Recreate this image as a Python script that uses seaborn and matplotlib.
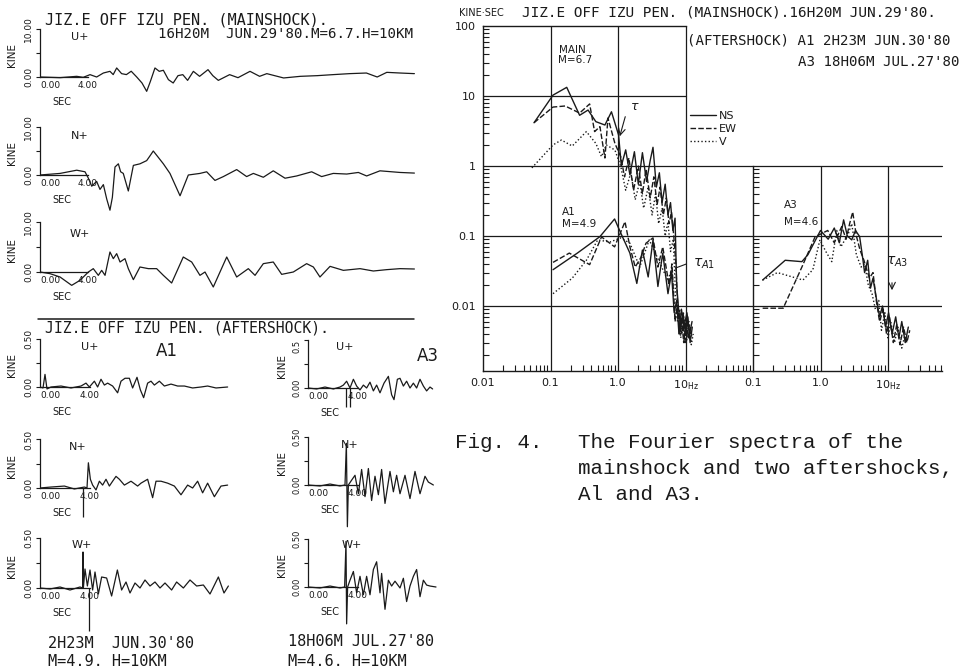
import matplotlib
matplotlib.use('Agg')
import matplotlib.pyplot as plt
import seaborn as sns
import pandas as pd
from matplotlib.lines import Line2D
from matplotlib.ticker import NullFormatter

# waveforms, time in sec and velocity in kine
main_u_t = [0, 1.67, 3.06, 3.6, 4.17, 4.72, 5.28, 5.83, 6.1, 6.39, 6.8, 7.2, 7.6, 8.06, 8.5,
            8.89, 9.2, 9.58, 9.94, 10.28, 10.7, 11.1, 11.5, 11.9, 12.3, 12.78, 13.3, 14.0, 14.4,
            14.86, 15.8, 16.5, 17.5, 18.3, 18.9, 20.3, 21.7, 23.1, 24.4, 25.8, 27.2, 28.1, 28.9,
            30.0, 31.2]
main_u_v = [0, -0.14, 0.14, -0.07, 0.49, 0, 0.83, 1.18, 0.5, 1.88, 0.7, 0.5, 1.2, 0, -1.25,
            -2.99, -0.9, 1.88, 1.18, 1.4, -0.55, -1.25, 0.28, 0.49, -0.7, 1.18, 0.14, 1.53, 0.28,
            -0.7, 0.49, -0.14, 1.18, 0.14, 0.7, -0.2, 0.14, 0.28, 0.49, 0.7, 0.83, 0, 0.97,
            0.83, 0.7]
main_n_t = [0, 1.67, 3.06, 3.75, 4.03, 4.31, 4.72, 5.0, 5.28, 5.56, 5.83, 6.03, 6.25, 6.53,
            6.72, 6.94, 7.36, 7.78, 8.33, 8.89, 9.17, 9.44, 9.86, 10.28, 10.83, 11.25, 11.67,
            12.36, 13.33, 13.89, 14.58, 15.28, 16.39, 17.22, 17.78, 18.61, 19.44, 20.42, 21.39,
            22.64, 23.47, 24.44, 25.56, 26.53, 27.22, 28.33, 30.0, 31.2]
main_n_v = [0, 0.33, 1.0, 0.67, -0.67, -2.33, -1.33, -3.0, -2.0, -5.0, -7.33, -4.67, 1.67, 2.33,
            0.67, 0.33, -3.33, 2.0, 2.33, 3.0, 4.0, 5.0, 3.67, 2.33, 0.33, -2.0, -4.33,
            0, 0.33, 0.67, -1.13, -0.33, 1.13, -0.33, 0.33, -0.47, 0.87, -0.67, -0.2,
            0.67, -0.33, 0.33, 0.2, 0.53, -0.2, 0.87, 0.53, 0.4]
main_w_t = [0, 0.83, 1.67, 2.64, 3.33, 4.03, 4.44, 4.86, 5.14, 5.42, 5.83, 6.11, 6.39, 6.67,
            7.08, 7.36, 7.78, 8.33, 9.03, 9.72, 10.28, 10.97, 11.94, 12.64, 13.33, 13.75, 14.44,
            15.56, 16.39, 17.36, 17.92, 18.61, 19.44, 20.14, 21.11, 22.22, 22.78, 23.33, 24.17,
            25.28, 26.67, 27.78, 28.89, 30.0, 31.2]
main_w_v = [0, -0.33, -1.0, -2.67, -1.67, 0, 0.67, -0.67, 0.33, -0.67, 4.0, 2.67, 3.67, 2.0,
            2.67, 0.67, -1.53, 1.0, 0.67, 0.67, -0.67, -2.2, 3.0, 2.0, -0.67, 0, -3.0,
            3.0, -1.0, 0.67, -0.67, 1.67, 2.0, -0.47, 0, 1.67, 1.0, -1.0, 1.13,
            0.33, 0.67, 0.2, 0.47, 0.67, 0.6]

a1_u_t = [0, 0.24, 0.4, 0.56, 0.88, 1.68, 2.48, 3.28, 3.68, 3.95, 4.35, 4.61, 4.88, 5.15, 5.41,
          5.81, 6.21, 6.48, 6.8, 7.15, 7.41, 7.76, 8.03, 8.29, 8.61, 8.88, 9.15, 9.55, 9.95,
          10.48, 11.01, 11.55, 12.21, 12.88, 13.41, 14.08, 15.01]
a1_u_v = [0, -0.01, 0.13, -0.02, 0, 0.01, -0.01, 0.01, 0.04, 0, 0.06, 0, 0.08, 0.02, 0.04,
          0.01, -0.06, 0.06, 0.09, 0.09, -0.01, 0.1, -0.03, -0.11, 0.04, 0.06, 0.02, 0.06, 0.01,
          0.03, 0.01, 0.01, -0.01, 0, 0.01, -0.01, 0]
a1_n_t = [0, 0.88, 1.95, 2.75, 3.55, 3.76, 3.87, 4.03, 4.21, 4.48, 4.75, 5.01, 5.28, 5.55, 5.81,
          6.08, 6.35, 6.75, 7.28, 7.81, 8.08, 8.61, 9.01, 9.28, 9.68, 10.21, 10.75, 11.28, 11.81,
          12.21, 12.61, 13.01, 13.41, 13.95, 14.48, 15.01]
a1_n_v = [0, 0.01, 0.02, -0.01, 0.01, 0, 0.26, 0.09, 0.03, -0.02, 0.07, 0.03, 0.09, 0.02, 0.07,
          0.12, 0.09, 0.03, 0.07, 0.02, 0.05, 0.09, -0.1, 0.07, 0.07, 0.05, 0.02, -0.07, 0.03,
          0, 0.07, -0.05, 0.05, -0.09, 0.02, 0.03]
a1_w_t = [0, 0.8, 1.6, 2.4, 3.2, 3.41, 3.44, 3.47, 3.6, 3.79, 4.0, 4.21, 4.4, 4.67, 4.93, 5.33,
          5.73, 6.19, 6.53, 6.88, 7.2, 7.6, 8.0, 8.4, 8.8, 9.2, 9.6, 10.0, 10.53, 10.93, 11.47,
          12.0, 12.53, 13.07, 13.6, 14.27, 14.72, 15.07]
a1_w_v = [0, -0.01, 0.01, -0.02, 0.01, 0, 0.36, 0, 0.19, 0.02, 0.18, -0.02, 0.16, -0.06, 0.11,
          0.1, -0.08, 0.18, -0.02, 0.06, -0.05, 0.05, 0, 0.08, 0.02, 0.06, 0, 0.05, -0.02, 0.06,
          0, 0.08, 0.02, 0.03, -0.06, 0.11, -0.05, 0.02]

a3_u_t = [0, 0.69, 1.36, 2.03, 2.56, 2.83, 3.09, 3.36, 3.63, 3.89, 4.16, 4.43, 4.69, 4.96, 5.23,
          5.49, 5.76, 6.08, 6.43, 6.69, 6.88, 7.15, 7.36, 7.63, 7.89, 8.16, 8.43, 8.69, 8.96,
          9.23, 9.49, 9.76, 9.97]
a3_u_v = [0, -0.01, 0.01, -0.01, 0.01, 0.03, 0.07, 0, 0.09, 0.02, -0.02, 0.03, 0, 0.06, -0.03,
          0.03, -0.05, 0.05, 0.12, -0.07, -0.12, 0.09, 0.1, 0.02, 0.07, 0, 0.05, 0, 0.09,
          0.02, -0.03, 0.01, -0.01]
a3_n_t = [0, 0.96, 1.76, 2.56, 2.96, 3.07, 3.15, 3.23, 3.49, 3.76, 4.03, 4.29, 4.56, 4.83, 5.09,
          5.36, 5.63, 5.89, 6.16, 6.56, 6.83, 7.09, 7.36, 7.76, 8.16, 8.56, 8.96, 9.36, 9.63, 10.03]
a3_n_v = [0, -0.01, 0.01, -0.01, 0, 0.43, -0.43, 0, 0.05, 0.1, -0.09, 0.16, -0.12, 0.17, -0.16,
          0.09, -0.1, 0.16, -0.19, 0.14, -0.07, 0.1, -0.09, 0.1, -0.14, 0.14, -0.09, 0.09, 0.03, 0]
a3_w_t = [0, 0.96, 1.76, 2.56, 2.93, 3.04, 3.09, 3.17, 3.36, 3.63, 3.89, 4.16, 4.43, 4.69, 4.96,
          5.23, 5.49, 5.76, 5.89, 6.16, 6.43, 6.69, 6.96, 7.36, 7.63, 7.89, 8.16, 8.43, 8.69,
          8.96, 9.23, 9.49, 9.76, 10.24]
a3_w_v = [0, -0.01, 0.01, -0.01, 0, 0.47, -0.38, 0, 0.07, 0.16, -0.06, 0.11, -0.08, 0.11, -0.08,
          0.18, 0.26, -0.06, 0.14, -0.23, 0.07, 0.01, 0.06, -0.01, 0.09, -0.15, 0.01, 0.11, 0.18,
          -0.1, 0.07, 0.02, 0.01, 0]

# onset marks below the base line (sec)
a1_n_marks = [3.44]
a1_w_marks = [3.92]
a3_u_marks = [3.04, 3.36]

# Fourier spectra, Hz and kine*sec
main_ns_f = [0.057, 0.109, 0.174, 0.27, 0.36, 0.47, 0.64, 0.80, 1.02, 1.12, 1.3, 1.5, 1.75, 2.0,
             2.3, 2.65, 3.0, 3.3, 3.7, 4.1, 4.5, 5.0, 5.5, 6.0, 6.5, 7.0, 7.4, 7.9, 8.5, 9.2,
             10.0, 10.8, 11.7, 12.6]
main_ns_a = [4.15, 10.3, 13.3, 5.3, 6.3, 4.3, 3.85, 5.95, 2.77, 1.0, 1.7, 0.75, 1.6, 0.55,
             1.55, 0.6, 1.2, 1.85, 0.5, 0.8, 0.3, 0.55, 0.2, 0.3, 0.12, 0.18, 0.02, 0.009, 0.005,
             0.008, 0.004, 0.007, 0.003, 0.005]
main_ew_f = [0.057, 0.109, 0.165, 0.27, 0.38, 0.45, 0.54, 0.64, 0.71, 0.9, 1.1, 1.25, 1.45, 1.7,
             2.0, 2.3, 2.6, 3.0, 3.4, 3.8, 4.2, 4.7, 5.2, 5.7, 6.2, 6.7, 7.2, 7.6, 8.1, 8.7, 9.4,
             10.2, 11.0, 12.0]
main_ew_a = [4.15, 6.95, 7.2, 5.7, 7.7, 3.1, 3.65, 1.3, 4.85, 2.1, 1.35, 0.7, 1.3, 0.45,
             1.0, 0.4, 0.9, 0.35, 0.7, 0.28, 0.5, 0.2, 0.35, 0.15, 0.22, 0.1, 0.04, 0.012, 0.004,
             0.007, 0.003, 0.006, 0.0035, 0.005]
main_v_f = [0.053, 0.109, 0.145, 0.21, 0.34, 0.47, 0.57, 0.67, 0.9, 1.1, 1.3, 1.55, 1.8, 2.1,
            2.4, 2.8, 3.2, 3.6, 4.0, 4.5, 5.0, 5.5, 6.0, 6.6, 7.1, 7.6, 8.2, 8.8, 9.5, 10.3, 11.2,
            12.2, 13.0]
main_v_a = [0.94, 2.0, 2.35, 1.93, 3.1, 2.1, 1.36, 2.0, 1.69, 0.98, 0.45, 0.8, 0.33, 0.6,
            0.25, 0.5, 0.2, 0.4, 0.15, 0.25, 0.1, 0.16, 0.06, 0.09, 0.015, 0.006, 0.009, 0.004,
            0.0065, 0.003, 0.0055, 0.0028, 0.004]

a1_ns_f = [0.109, 0.25, 0.54, 0.89, 1.1, 1.5, 1.9, 2.3, 2.8, 3.3, 3.9, 4.6, 5.5, 6.2, 6.8, 7.4,
           8.0, 8.7, 9.5, 10.5, 11.5, 12.5]
a1_ns_a = [0.033, 0.057, 0.098, 0.175, 0.11, 0.057, 0.021, 0.063, 0.026, 0.088, 0.019, 0.057,
           0.015, 0.03, 0.008, 0.012, 0.004, 0.009, 0.005, 0.008, 0.004, 0.006]
a1_ew_f = [0.109, 0.19, 0.38, 0.57, 0.89, 1.27, 1.5, 1.8, 2.2, 2.6, 3.3, 3.9, 4.6, 5.7, 6.3, 7.0,
           7.6, 8.3, 9.0, 9.8, 10.8, 11.8]
a1_ew_a = [0.042, 0.057, 0.039, 0.097, 0.07, 0.16, 0.07, 0.036, 0.05, 0.079, 0.094, 0.036, 0.07,
           0.02, 0.04, 0.006, 0.01, 0.004, 0.007, 0.003, 0.006, 0.004]
a1_v_f = [0.109, 0.21, 0.34, 0.5, 0.76, 1.1, 1.5, 2.1, 2.9, 4.0, 5.5, 6.3, 7.0, 7.7, 8.5, 9.3,
          10.2, 11.2, 12.5]
a1_v_a = [0.015, 0.025, 0.045, 0.088, 0.082, 0.094, 0.079, 0.036, 0.088, 0.045, 0.023, 0.035,
          0.007, 0.01, 0.0035, 0.008, 0.003, 0.006, 0.0035]

a3_ns_f = [0.139, 0.3, 0.53, 0.65, 1.0, 1.3, 1.6, 1.9, 2.2, 2.5, 2.9, 3.3, 3.8, 4.2, 4.5, 5.0,
           5.5, 6.0, 6.8, 7.5, 8.3, 9.2, 10.2, 11.5, 13, 14.5, 16, 18, 20]
a3_ns_a = [0.0235, 0.045, 0.043, 0.054, 0.12, 0.09, 0.13, 0.08, 0.17, 0.1, 0.088, 0.12, 0.098,
           0.05, 0.03, 0.045, 0.018, 0.025, 0.012, 0.007, 0.01, 0.005, 0.008, 0.004, 0.007,
           0.0035, 0.006, 0.003, 0.005]
a3_ew_f = [0.139, 0.28, 0.53, 0.83, 1.28, 1.6, 2.06, 2.4, 2.7, 3.0, 3.4, 3.85, 4.4, 5.3, 6.0,
           6.7, 7.5, 8.5, 9.5, 10.5, 12, 13.5, 15, 17, 19, 21]
a3_ew_a = [0.0093, 0.0093, 0.036, 0.097, 0.12, 0.08, 0.136, 0.09, 0.15, 0.22, 0.1, 0.063, 0.045,
           0.025, 0.03, 0.012, 0.006, 0.009, 0.004, 0.007, 0.003, 0.0055, 0.0028, 0.005, 0.003,
           0.0045]
a3_v_f = [0.139, 0.23, 0.55, 0.77, 0.98, 1.2, 1.47, 1.74, 2.0, 2.3, 2.6, 2.9, 3.4, 4.0, 4.5,
          5.1, 5.8, 6.5, 7.3, 8.0, 9.0, 10.0, 11.0, 12.5, 14, 16, 18]
a3_v_a = [0.0235, 0.03, 0.0235, 0.033, 0.088, 0.06, 0.043, 0.12, 0.07, 0.088, 0.11, 0.15, 0.054,
          0.036, 0.04, 0.02, 0.015, 0.009, 0.012, 0.0045, 0.008, 0.0035, 0.006, 0.003, 0.005,
          0.0025, 0.004]

comps = ['NS', 'EW', 'V']

sns.set_theme(style='ticks', rc={'axes.edgecolor': 'k', 'xtick.color': 'k', 'ytick.color': 'k',
                                 'text.color': 'k', 'axes.linewidth': 0.9})
plt.rcParams['font.family'] = ['DejaVu Sans']

W, H = 977, 671
fig = plt.figure(figsize=(W / 100, H / 100), dpi=100)
MONO = 'DejaVu Sans Mono'


def px_axes(left, top, width, height):
    return fig.add_axes([left / W, 1 - (top + height) / H, width / W, height / H])


def ftext(x, y, s, **kw):
    kw.setdefault('va', 'center')
    fig.text(x / W, 1 - y / H, s, **kw)


def wave_panel(t, v, x0, zero, sx, sy, tmax, vmin, vmax, top_val, top_lab,
               marks=None, mark_low=0, kine_dx=28, lab_size=6.5, top_va='center'):
    ax = px_axes(x0, zero - vmax * sy, tmax * sx, (vmax - vmin) * sy)
    ax.patch.set_visible(False)
    sns.lineplot(x=t, y=v, ax=ax, color='k', linewidth=0.9, estimator=None, sort=False)
    if marks:
        ax.vlines(marks, mark_low, 0, color='k', lw=0.9)
    ax.set_xlim(0, tmax)
    ax.set_ylim(vmin, vmax)
    ax.spines[['top', 'right']].set_visible(False)
    ax.spines['left'].set_position(('data', 0))
    ax.spines['left'].set_bounds(0, top_val)
    ax.spines['bottom'].set_position(('data', 0))
    ax.spines['bottom'].set_bounds(0, 4)
    ax.set_yticks([0, top_val / 2, top_val], ['0.00', '', top_lab])
    ax.tick_params(axis='y', length=3, width=0.8, pad=2, labelsize=lab_size, labelrotation=90)
    ylabs = ax.get_yticklabels()
    for lab in ylabs:
        lab.set_va('center')
    ylabs[2].set_va(top_va)
    ax.set_xticks([0, 4], ['0.00', '4.00'])
    ax.tick_params(axis='x', length=0, pad=3, labelsize=6.5)
    ax.get_xticklabels()[0].set_ha('left')
    ax.set_xlabel('')
    ax.set_ylabel('')
    ftext(x0 - kine_dx, zero - 22, 'KINE', rotation=90, ha='center', fontsize=7.5)
    ftext(x0 + 22, zero + 25, 'SEC', ha='center', fontsize=7)
    return ax


# mainshock records
wave_panel(main_u_t, main_u_v, 40, 77, 12, 4.8, 31.3, -3.5, 10.5, 10, '10.00')
wave_panel(main_n_t, main_n_v, 40, 175, 12, 4.8, 31.3, -8, 10.5, 10, '10.00')
wave_panel(main_w_t, main_w_v, 40, 272, 12, 5.0, 31.3, -3.5, 10.5, 10, '10.00')

# aftershock records
wave_panel(a1_u_t, a1_u_v, 40, 387, 12.5, 97, 15.5, -0.25, 0.55, 0.5, '0.50')
wave_panel(a1_n_t, a1_n_v, 40, 488, 12.5, 97, 15.5, -0.35, 0.55, 0.5, '0.50',
           marks=a1_n_marks, mark_low=-0.3)
wave_panel(a1_w_t, a1_w_v, 40, 588, 12.5, 100, 15.5, -0.45, 0.55, 0.5, '0.50',
           marks=a1_w_marks, mark_low=-0.43)
wave_panel(a3_u_t, a3_u_v, 308, 388, 12.5, 97, 10.6, -0.25, 0.55, 0.5, '0.5',
           marks=a3_u_marks, mark_low=-0.2, kine_dx=26, lab_size=6, top_va='top')
wave_panel(a3_n_t, a3_n_v, 308, 485, 12.5, 97, 10.6, -0.45, 0.55, 0.5, '0.50',
           kine_dx=26, lab_size=6)
wave_panel(a3_w_t, a3_w_v, 308, 587, 12.5, 97, 10.6, -0.45, 0.55, 0.5, '0.50',
           kine_dx=26, lab_size=6)

ftext(45, 20, "JIZ.E OFF IZU PEN. (MAINSHOCK).", family=MONO, fontsize=11)
ftext(158, 34, "16H20M  JUN.29'80.M=6.7.H=10KM", family=MONO, fontsize=10.2)
ftext(80, 37, 'U+', ha='center', fontsize=8)
ftext(80, 136, 'N+', ha='center', fontsize=8)
ftext(80, 234, 'W+', ha='center', fontsize=8)

fig.add_artist(Line2D([38 / W, 414 / W], [1 - 319 / H] * 2, color='k', lw=1.1))
ftext(45, 328, "JIZ.E OFF IZU PEN. (AFTERSHOCK).", family=MONO, fontsize=10.6)
ftext(167, 351, 'A1', ha='center', fontsize=12)
ftext(428, 356, 'A3', ha='center', fontsize=12)
ftext(90, 347, 'U+', ha='center', fontsize=8)
ftext(78, 447, 'N+', ha='center', fontsize=8)
ftext(82, 545, 'W+', ha='center', fontsize=8)
ftext(345, 347, 'U+', ha='center', fontsize=8)
ftext(350, 445, 'N+', ha='center', fontsize=8)
ftext(352, 545, 'W+', ha='center', fontsize=8)
ftext(48, 643, "2H23M  JUN.30'80", family=MONO, fontsize=11)
ftext(48, 662, "M=4.9. H=10KM", family=MONO, fontsize=11)
ftext(288, 642, "18H06M JUL.27'80", family=MONO, fontsize=11)
ftext(288, 661, "M=4.6. H=10KM", family=MONO, fontsize=11)


def spec_df(parts):
    return pd.concat([pd.DataFrame({'freq': f, 'amp': a, 'comp': c}) for c, f, a in parts],
                     ignore_index=True)


main_df = spec_df([('NS', main_ns_f, main_ns_a), ('EW', main_ew_f, main_ew_a), ('V', main_v_f, main_v_a)])
a1_df = spec_df([('NS', a1_ns_f, a1_ns_a), ('EW', a1_ew_f, a1_ew_a), ('V', a1_v_f, a1_v_a)])
a3_df = spec_df([('NS', a3_ns_f, a3_ns_a), ('EW', a3_ew_f, a3_ew_a), ('V', a3_v_f, a3_v_a)])
dash_map = {'NS': '', 'EW': (4, 1.6), 'V': (1, 1.6)}

ylow = 10 ** (-205 / 70)
ax1 = px_axes(483, 26, 270, 345)
ax2 = px_axes(753, 166, 189, 205)
for ax in (ax1, ax2):
    ax.patch.set_visible(False)

sns.lineplot(data=main_df, x='freq', y='amp', style='comp', style_order=comps, dashes=dash_map,
             color='k', linewidth=1.0, estimator=None, sort=False, ax=ax1, legend=True)
sns.lineplot(data=a1_df, x='freq', y='amp', style='comp', style_order=comps, dashes=dash_map,
             color='k', linewidth=1.0, estimator=None, sort=False, ax=ax1, legend=False)
sns.lineplot(data=a3_df, x='freq', y='amp', style='comp', style_order=comps, dashes=dash_map,
             color='k', linewidth=1.0, estimator=None, sort=False, ax=ax2, legend=False)

old = ax1.get_legend()
handles = list(old.legend_handles)
labels = [t.get_text() for t in old.get_texts()]
old.remove()
ax1.legend(handles, labels, loc='upper left', bbox_to_anchor=(690 / W, 1 - 111 / H),
           bbox_transform=fig.transFigure, frameon=False, fontsize=8, handlelength=2.3,
           handletextpad=0.3, labelspacing=0.25, borderpad=0, borderaxespad=0)

ax1.set_xscale('log')
ax1.set_yscale('log')
ax1.set_xlim(0.01, 100)
ax1.set_ylim(ylow, 100)
ax2.set_xscale('log')
ax2.set_yscale('log')
ax2.set_xlim(0.1, 10 ** 1.8)
ax2.set_ylim(ylow, 1)

for ax in (ax1, ax2):
    ax.set_xlabel('')
    ax.set_ylabel('')
    ax.spines['right'].set_visible(False)
    for s in ax.spines.values():
        s.set_linewidth(1.0)
ax1.spines['top'].set_bounds(0.01, 10)
ax2.spines['top'].set_visible(False)

grid = dict(color='k', lw=0.9)
for f in (0.1, 1.0, 10):
    ax1.axvline(f, **grid)
ax1.axhline(10, xmax=0.75, **grid)
for a in (1, 0.1, 0.01):
    ax1.axhline(a, **grid)
ax2.axhline(1, clip_on=False, **grid)
for a in (0.1, 0.01):
    ax2.axhline(a, **grid)
for f in (1.0, 10):
    ax2.axvline(f, **grid)

ax1.set_xticks([0.01, 0.1, 1, 10], ['0.01', '0.1', '1.0', r'10$_{\rm Hz}$'])
ax1.set_xticks([m * d for d in (0.01, 0.1, 1, 10) for m in range(2, 10)], minor=True)
ax1.set_yticks([0.01, 0.1, 1, 10, 100], ['0.01', '0.1', '1', '10', '100'])
ax1.set_yticks([m * d for d in (0.001, 0.01, 0.1, 1, 10) for m in range(2, 10)], minor=True)
ax2.set_xticks([0.1, 1, 10], ['0.1', '1.0', r'10$_{\rm Hz}$'])
ax2.set_xticks([m * d for d in (0.1, 1, 10) for m in range(2, 10) if m * d < 63], minor=True)
ax2.set_yticks([0.01, 0.1, 1], ['', '', ''])
ax2.set_yticks([m * d for d in (0.001, 0.01, 0.1) for m in range(2, 10)], minor=True)
for ax in (ax1, ax2):
    ax.xaxis.set_minor_formatter(NullFormatter())
    ax.yaxis.set_minor_formatter(NullFormatter())
    ax.tick_params(which='major', length=0, labelsize=8, pad=5)
    ax.tick_params(which='minor', direction='in', length=4, width=0.8)

ftext(481, 13, 'KINE·SEC', ha='center', fontsize=7)
ftext(522, 13, "JIZ.E OFF IZU PEN. (MAINSHOCK).16H20M JUN.29'80.", family=MONO, fontsize=10.4)
ftext(687, 41, "(AFTERSHOCK) A1 2H23M JUN.30'80", family=MONO, fontsize=10.2)
ftext(960, 62, "A3 18H06M JUL.27'80", family=MONO, fontsize=10.2, ha='right')
ftext(572, 50, 'MAIN', ha='center', fontsize=7.5)
ftext(575, 60, 'M=6.7', ha='center', fontsize=7.5)
ftext(562, 212, 'A1', fontsize=7.5)
ftext(562, 224, 'M=4.9', fontsize=7.5)
ftext(784, 205, 'A3', fontsize=7.5)
ftext(784, 222, 'M=4.6', fontsize=7.5)
ftext(630, 107, r'$\tau$', fontsize=9)
ftext(693, 264, r'$\tau_{A1}$', fontsize=10)
ftext(886, 262, r'$\tau_{A3}$', fontsize=10)
fig.add_artist(plt.Annotation('', xy=(619 / W, 1 - 139 / H), xytext=(626 / W, 1 - 114 / H),
                              xycoords='figure fraction',
                              arrowprops=dict(arrowstyle='->', lw=0.8, color='k')))
fig.add_artist(plt.Annotation('', xy=(673 / W, 1 - 269 / H), xytext=(689 / W, 1 - 263 / H),
                              xycoords='figure fraction',
                              arrowprops=dict(arrowstyle='-', lw=0.8, color='k')))
fig.add_artist(plt.Annotation('', xy=(892 / W, 1 - 293 / H), xytext=(892 / W, 1 - 280 / H),
                              xycoords='figure fraction',
                              arrowprops=dict(arrowstyle='->', lw=0.8, color='k')))

CAP = 'Liberation Mono'
ftext(455, 443, 'Fig. 4.', family=CAP, fontsize=15)
ftext(578, 443, 'The Fourier spectra of the', family=CAP, fontsize=15)
ftext(578, 469, 'mainshock and two aftershocks,', family=CAP, fontsize=15)
ftext(578, 495, 'Al and A3.', family=CAP, fontsize=15)

fig.savefig('out.png', dpi=100)
